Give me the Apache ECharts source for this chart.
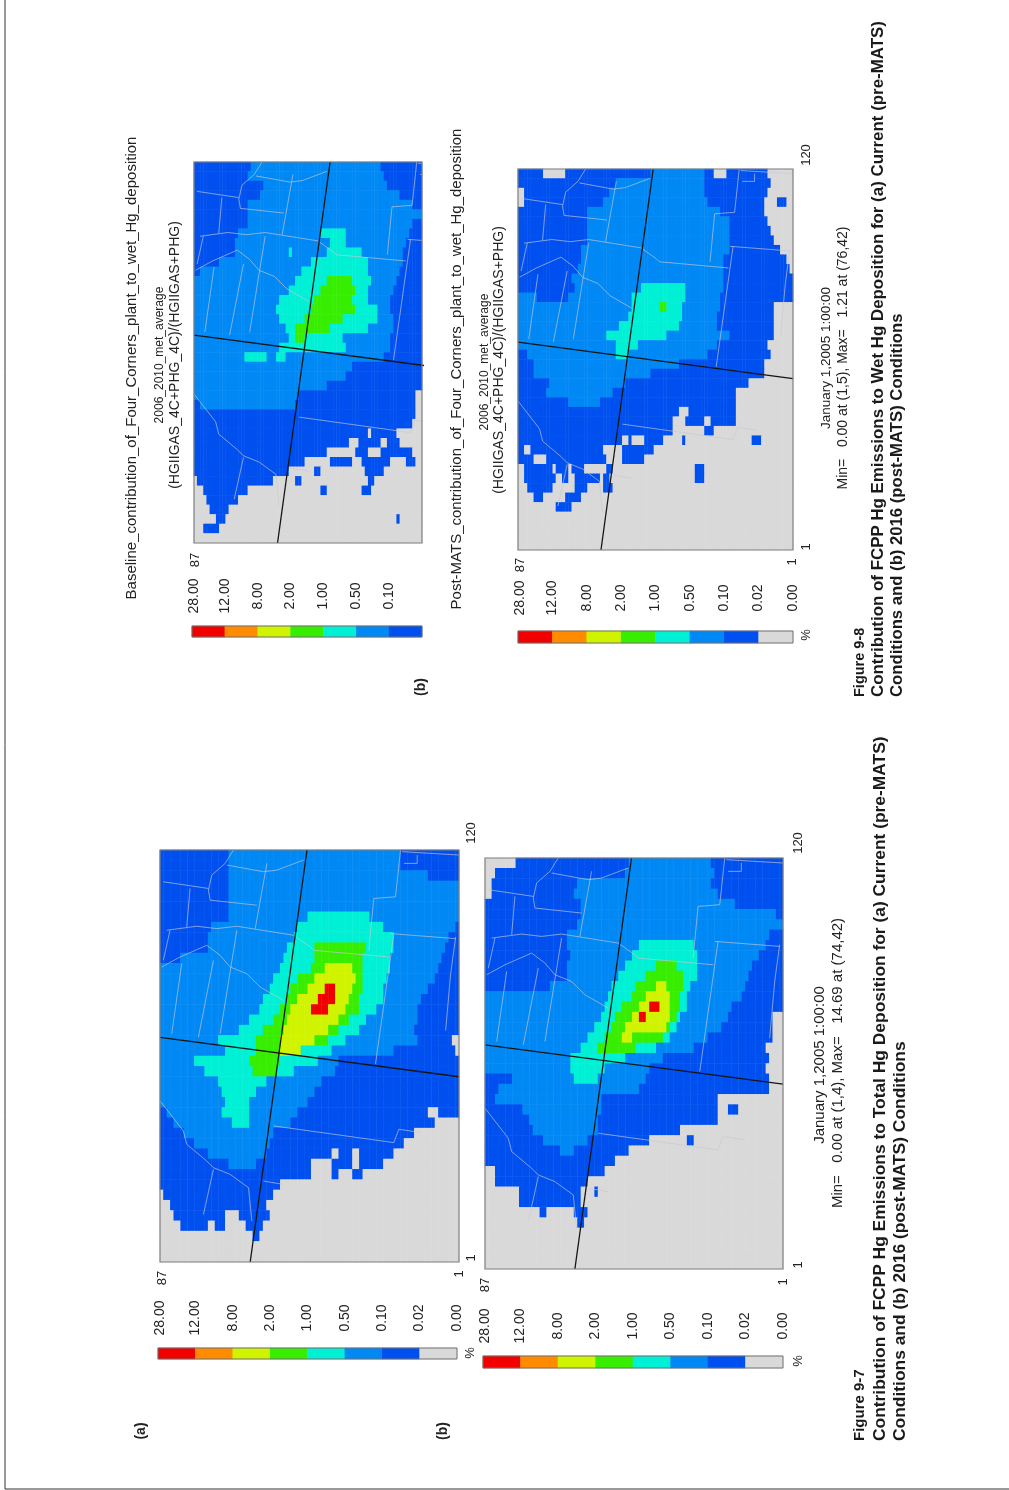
<!DOCTYPE html>
<html><head><meta charset="utf-8">
<style>html,body{margin:0;padding:0;background:#fff}#c{width:1009px;height:1490px;filter:blur(0.55px)}</style>
<script src="https://cdn.jsdelivr.net/npm/echarts@6/dist/echarts.min.js"></script>
</head><body><div id="c"></div>
<script>
// Level letters: a 0-0.02, b 0.02-0.10, c 0.10-0.50, d 0.50-1, e 1-2, f 2-8, g 8-12, h 12-28 (%)
// Each row: letter + position where that level ends, read left to right across the map.
const levelColors=['#d9d9d9','#0050f0','#0088f5','#00f0d5','#38ee00','#d0f400','#ff8c00','#f20000'];
const legendLabels=['28.00','12.00','8.00','2.00','1.00','0.50','0.10','0.02','0.00'];
const map1Rows=[
'b240 c750 b925','b240 c755 b925','b235 c830 b925','b235 c925','b240 c925','b240 c925','b235 c470 d660 c925',
'b180 c445 d700 c910 b925','b170 c430 d725 c890 b925','b170 c415 d495 e645 d725 c880 b925','b95 c400 d490 e640 d720 c875 b925',
'c385 d480 e520 f610 e640 d715 c865 b925','c370 d440 e490 f615 e640 d705 c850 b925','c355 d420 e470 f520 h550 f610 e635 d700 c830 b925',
'c340 d410 e445 f500 h550 f600 e630 d695 c815 b925','c325 d390 e425 f485 h530 f590 e625 d680 c805 b925','c300 d370 e410 f560 e600 d650 c800 b925',
'c270 d340 e400 f530 e570 d630 c790 b925','c210 d320 e390 f495 e535 d590 c800 b905 a925','c225 d315 e390 f450 d540 c730 b915 a925',
'c130 d300 e395 d500 c560 b925','c165 d305 e380 d430 c550 b925','c200 d345 c515 b925','c215 d320 c490 b925','c225 d295 c470 b925',
'b50 c215 d300 c440 b835 a860 b925','b75 c250 d295 c420 b855 a925','b105 c370 b790 a925','b130 c360 b760 a925',
'b175 c345 b540 a560 b610 a630 b725 a925','b235 c315 b480 a540 b610 a630 b700 a925','b480 a540 b570 a610 b635 a925','b395 a925',
'a40 b370 a925','a60 b345 a925','a70 b230 a270 b355 a925','a95 b175 a195 b225 a290 b340 a925','a305 b325 a925','a925','a925'];
const map2Rows=[
'a120 b460 c710 b925','a60 b450 c715 b925','a50 b310 c710 b925','a50 b300 c725 b925','a35 b320 c780 b925','b320 c900 b925','b310 c925',
'b280 c880 b925','b280 c490 d660 c870 b925','b285 c470 d670 c850 b925','b280 c450 d540 e610 d670 c835 b925','b275 c430 d510 e625 d665 c825 b925',
'b230 c415 d480 e545 f575 e625 d650 c815 b925','c400 d470 e515 f590 e620 d640 c800 b925','c395 d440 e495 f525 h550 f590 e615 d635 c770 b925',
'c380 d425 e470 f490 h510 f590 e605 d620 c760 b895 a925','c360 d410 e455 f575 e590 d610 c740 b895 a925','c335 d390 e445 f470 e560 d590 c700 b890 a925',
'c315 d370 e480 d540 c660 b875 a925','c285 d450 c570 b880 a925','c285 d385 c520 b875 a925','b110 c300 d370 c510 b885 a925','b70 c490 b880 a925',
'b60 c380 b730 a925','b140 c375 b730 a760 b790 a925','b165 c370 b725 a925','b170 c365 b620 a925','b205 c340 b525 a640 b660 a925','b260 c300 b460 a925',
'b420 a925','a65 b390 a925','a60 b340 a925','a130 b320 a355 b370 a925','a135 b320 a925','a190 b220 a300 b340 a925','a305 b330 a925','a925','a925','a925','a925'];
const map3Rows=[
'b200 c590 b710','b190 c595 b710','b235 c610 b710','b230 c640 b710','b190 c680 b710','b185 c710','b185 c685 b710',
'b165 c410 d480 c670 b710','b155 c440 d480 c660 b710','b150 c310 d320 c430 d530 c655 b710','b100 c380 d545 c650 b710','b50 c350 d550 c640 b710',
'c330 d430 e505 d555 c630 b710','c310 d410 e510 d550 c625 b710','c285 d385 e500 d545 c620 b710','c275 d375 e510 d580 c620 b710','c285 d360 e470 d580 c625 b710',
'c300 d335 e440 d550 c625 b710','c310 d335 e360 d470 c620 b710','c280 d480 c615 b710','c180 d250 c275 d300 c600 b710','c500 b710','c480 b710','c430 b710',
'c340 b690 a710','b50 c330 b690 a710','b690 a710','b680 a710','b545 a555 b630 a710','b495 a525 b590 a610 b640 a710','b430 a510 b550 a590 b680 a710',
'b360 a440 b500 a530 b620 a660 b690 a710','b310 a390 b410 a540 b595 a710','a40 b265 a335 b350 a550 b570 a710','a55 b185 a410 b425 a530 b555 a710',
'a70 b160 a710','a80 b135 a710','a90 b125 a630 b640 a710','a55 b105 a710','a710'];
const map4Rows=[
'b105 a165 b425 c580 b615 a650 b770 a850','b320 c585 b785 a850','a40 b300 c585 b770 a850','a40 b280 c590 b760 a800 b830 a850','b235 c630 b760 a850','b235 c660 b770 a850',
'b235 c665 b780 a850','b235 c665 b790 a850','b215 c660 b810 a850','b215 c640 b835 a850','b205 c645 b840 a850','b190 c645 b850','b195 c395 d530 c640 b850',
'c85 b175 c370 d525 c635 b850','c370 d455 e470 d515 c630 b790 a850','c355 d515 c625 b795 a850','c325 d510 c625 b790 a850','c295 d475 c660 b790 a850',
'c320 d385 c620 b775 a850','b50 c315 d360 c590 b780 a850','b75 c510 b765 a850','b75 c420 b765 a850','b120 c345 b720 a850','b110 c310 b680 a850','b180 c270 b680 a850',
'b510 a540 b675 a850','b490 a530 b580 a600 b680 a850','b490 a580 b610 a850','b340 a360 b370 a400 b460 a515 b525 a730 b755 a850','b40 a65 b285 a340 b430 a850',
'b75 a110 b290 a340 b405 a850','a45 b130 a140 b175 a190 b225 a290 b310 a560 b585 a850','a45 b135 a160 b180 a200 b270 a285 b300 a560 b585 a850','a50 b130 a200 b235 a285 b305 a850',
'a70 b100 a170 b210 a850','a140 b190 a850','a850','a850','a850','a850'];
// Outlines in map units (full domain 895 x 1232).
const crossLines=[[[440,0],[270,1232]],[[0,560],[895,678]]];
const stateBorders=[
[[10,95],[145,115]],
[[220,0],[195,40],[155,75],[145,120],[150,150],[290,165]],
[[200,45],[310,65],[350,60],[430,30]],
[[320,40],[285,235]],[[90,115],[80,230]],
[[20,240],[110,228],[170,235],[230,228],[400,255],[450,290],[460,300],[685,320]],
[[690,250],[885,265]],
[[720,0],[705,140],[640,145],[625,300]],
[[700,250],[645,640]],
[[885,260],[870,370],[855,540]],
[[725,5],[895,15]],[[730,40],[770,40],[770,15]],
[[30,240],[10,330]],[[5,350],[60,320],[140,285],[180,315],[210,350],[260,370],[300,410],[370,450]],
[[65,340],[35,550]],[[160,330],[115,560]],[[230,240],[180,550]],
[[340,825],[700,875],[715,835],[780,845]],
[[0,750],[70,840],[80,880],[140,930],[160,950],[210,970],[265,1010],[275,1110]],
[[160,955],[130,1090]],[[310,990],[370,1000]]];
const mapTitles=[
{t:'Baseline_contribution_of_Four_Corners_plant_to_wet_Hg_deposition',x:132,y:368,f:'15px'},
{t:'2006_2010_met_average',x:160,y:355,f:'12px'},
{t:'(HGIIGAS_4C+PHG_4C)/(HGIIGAS+PHG)',x:175,y:355,f:'14px'},
{t:'Post-MATS_contribution_of_Four_Corners_plant_to_wet_Hg_deposition',x:457,y:369,f:'15px'},
{t:'2006_2010_met_average',x:485,y:362,f:'12px'},
{t:'(HGIIGAS_4C+PHG_4C)/(HGIIGAS+PHG)',x:499,y:360,f:'14px'},
{t:'January 1,2005 1:00:00',x:826,y:358,f:'13.5px'},
{t:'Min=   0.00 at (1,5), Max=   1.21 at (76,42)',x:843,y:358,f:'14px'},
{t:'January 1,2005 1:00:00',x:820,y:1065,f:'15px'},
{t:'Min=   0.00 at (1,4), Max=   14.69 at (74,42)',x:838,y:1063,f:'15px'},
{t:'(a)',x:141,y:1431,f:'bold 14px'},{t:'(b)',x:443,y:1431,f:'bold 14px'},{t:'(b)',x:421,y:687,f:'bold 14px'}];
const captions=[
{t:'Figure 9-8',x:860,y:697,s:14.5},
{t:'Contribution of FCPP Hg Emissions to Wet Hg Deposition for (a) Current (pre-MATS)',x:878,y:697,s:16.9},
{t:'Conditions and (b) 2016 (post-MATS) Conditions',x:897,y:697,s:16.7},
{t:'Figure 9-7',x:860,y:1441,s:15},
{t:'Contribution of FCPP Hg Emissions to Total Hg Deposition for (a) Current (pre-MATS)',x:880,y:1441,s:17.4},
{t:'Conditions and (b) 2016 (post-MATS) Conditions',x:900,y:1441,s:17.4}];
const tickTexts=[
{t:'87',x:162,y:1278},{t:'1',x:459,y:1274},{t:'120',x:471,y:833},{t:'1',x:471,y:1258},
{t:'87',x:485,y:1285},{t:'1',x:783,y:1282},{t:'120',x:798,y:843},{t:'1',x:798,y:1265},
{t:'87',x:195,y:560},{t:'87',x:520,y:565},{t:'1',x:792,y:562},{t:'120',x:806,y:155},{t:'1',x:806,y:547},
{t:'%',x:470,y:1353},{t:'%',x:798,y:1361},{t:'%',x:806,y:635}];

const panels=[
{rows:map1Rows,x0:30,span:895,cols:87,full:895,g:{left:160,top:850,width:299,height:412}},
{rows:map2Rows,x0:30,span:895,cols:87,full:895,g:{left:485,top:858,width:298,height:411}},
{rows:map3Rows,x0:28,span:682,cols:72,full:737,g:{left:194,top:162,width:228,height:381}},
{rows:map4Rows,x0:25,span:825,cols:87,full:895,g:{left:518,top:169,width:275,height:381}}];
const legends=[
{n:8,g:{left:158,top:1348,width:299,height:11},ty:1318},
{n:8,g:{left:483,top:1356,width:300,height:12},ty:1326},
{n:7,g:{left:192,top:626,width:230,height:11},ty:596},
{n:8,g:{left:518,top:631,width:275,height:12},ty:598}];

function rot(t,x,y,font,fill,align){
  return {type:'text',x:x,y:y,rotation:Math.PI/2,z:20,silent:true,style:{text:t,font:font,fill:fill,align:align,verticalAlign:'middle'}};
}
function decode(rows,x0,span,cols){
  const out=[];
  rows.forEach((row,r)=>{
    const toks=row.trim().split(/\s+/).map(s=>[s.charCodeAt(0)-97,+s.slice(1)]);
    for(let c=0;c<cols;c++){
      const p=x0+(c+0.5)/cols*span;
      let lv=toks[toks.length-1][0];
      for(const t of toks){ if(p<t[1]){lv=t[0];break;} }
      out.push([c,r,lv]);
    }
  });
  return out;
}
const seq=n=>Array.from({length:n},(_,i)=>i);
const grid=[],xAxis=[],yAxis=[],series=[],heatIdx=[],graphic=[];
function addHidden(g,xa,ya){grid.push(g);const i=grid.length-1;xAxis.push(Object.assign({gridIndex:i,show:false},xa));yAxis.push(Object.assign({gridIndex:i,show:false},ya));return i;}
const lineSeries=[];
panels.forEach(p=>{
  const i=addHidden(p.g,{type:'category',data:seq(p.cols),boundaryGap:true},{type:'category',data:seq(p.rows.length),inverse:true,boundaryGap:true});
  heatIdx.push(series.length);
  series.push({type:'heatmap',xAxisIndex:i,yAxisIndex:i,data:decode(p.rows,p.x0,p.span,p.cols),progressive:0,animation:false,silent:true,z:1});
  const j=addHidden(p.g,{type:'value',min:0,max:p.full},{type:'value',min:0,max:1232,inverse:true});
  stateBorders.forEach(b=>lineSeries.push({type:'line',xAxisIndex:j,yAxisIndex:j,data:b,symbol:'none',silent:true,animation:false,clip:true,z:3,lineStyle:{color:'rgba(200,200,215,0.65)',width:1}}));
  crossLines.forEach(b=>lineSeries.push({type:'line',xAxisIndex:j,yAxisIndex:j,data:b,symbol:'none',silent:true,animation:false,clip:true,z:4,lineStyle:{color:'#151515',width:1.3}}));
  graphic.push({type:'rect',z:10,shape:{x:p.g.left,y:p.g.top,width:p.g.width,height:p.g.height},style:{fill:'none',stroke:'#808080',lineWidth:1.2}});
});
legends.forEach(l=>{
  const i=addHidden(l.g,{type:'category',data:seq(l.n),boundaryGap:true},{type:'category',data:[0],boundaryGap:true});
  heatIdx.push(series.length);
  series.push({type:'heatmap',xAxisIndex:i,yAxisIndex:i,data:seq(l.n).map(k=>[k,0,7-k]),progressive:0,animation:false,silent:true,z:1});
  graphic.push({type:'rect',z:10,shape:{x:l.g.left,y:l.g.top,width:l.g.width,height:l.g.height},style:{fill:'none',stroke:'#707070',lineWidth:1}});
  const step=l.g.width/l.n;
  legendLabels.slice(0,l.n===7?7:9).forEach((t,k)=>{
    graphic.push(rot(t,l.g.left+k*step+(k===0?2:0),l.ty,'14px "Liberation Sans"','#222','center'));
  });
});
mapTitles.forEach(m=>graphic.push(rot(m.t,m.x,m.y,m.f+' "Liberation Sans"','#222','center')));
tickTexts.forEach(m=>graphic.push(rot(m.t,m.x,m.y,'13px "Liberation Sans"','#222','center')));
captions.forEach(m=>graphic.push(rot(m.t,m.x,m.y,'bold '+m.s+'px "Liberation Sans"','#1a1a1a','left')));
graphic.push({type:'polyline',z:30,silent:true,shape:{points:[[5,0],[5,1489],[1009,1489]]},style:{fill:'none',stroke:'#333',lineWidth:1}});

const chart=echarts.init(document.getElementById('c'),null,{renderer:'canvas',width:1009,height:1490});
chart.setOption({
  animation:false,backgroundColor:'#fff',
  grid,xAxis,yAxis,
  visualMap:{show:false,type:'piecewise',dimension:2,seriesIndex:heatIdx,
    pieces:levelColors.map((c,i)=>({value:i,color:c}))},
  series:series.concat(lineSeries),
  graphic:{elements:graphic}
});
</script></body></html>
